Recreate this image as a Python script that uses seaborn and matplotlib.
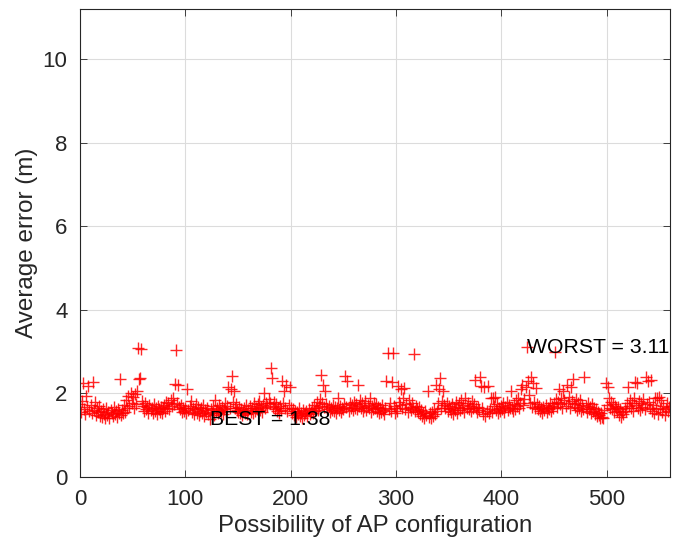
import numpy as np
import pandas as pd
import matplotlib
matplotlib.use("Agg")
import matplotlib.pyplot as plt
import seaborn as sns

# Average positioning error (m) for each of the 560 AP configurations
err_000 = [1.74, 1.55, 1.82, 2.25, 1.62, 1.50, 1.95, 1.68, 2.18, 1.58,
           1.72, 1.52, 2.28, 1.60, 1.80, 1.48, 1.65, 1.55, 1.70, 1.46,
           1.58, 1.44, 1.62, 1.50, 1.42, 1.66, 1.48, 1.56, 1.40, 1.60,
           1.52, 1.45, 1.68, 1.50, 1.58, 1.44, 1.62, 1.54, 2.35, 1.48]
err_040 = [1.60, 1.52, 1.72, 1.56, 1.85, 1.64, 1.95, 1.70, 2.02, 1.78,
           1.92, 1.66, 1.98, 1.74, 2.05, 3.08, 2.34, 2.36, 3.07, 1.82,
           1.70, 1.58, 1.76, 1.62, 1.68, 1.54, 1.72, 1.60, 1.66, 1.52,
           1.74, 1.58, 1.64, 1.50, 1.70, 1.62, 1.56, 1.68, 1.54, 1.64]
err_080 = [1.72, 1.58, 1.80, 1.66, 1.76, 1.62, 1.84, 1.70, 1.88, 1.74,
           2.22, 3.03, 1.78, 2.20, 1.68, 1.62, 1.72, 1.56, 1.66, 1.58,
           1.64, 1.52, 2.10, 1.60, 1.70, 1.83, 1.56, 1.66, 1.50, 1.62,
           1.74, 1.54, 1.68, 1.48, 1.58, 1.64, 1.52, 1.72, 1.46, 1.60]
err_120 = [1.56, 1.66, 1.50, 1.38, 1.62, 1.54, 1.70, 1.48, 1.85, 1.58,
           1.64, 1.52, 1.72, 1.60, 1.56, 1.68, 1.50, 1.62, 1.76, 1.58,
           1.70, 2.15, 1.64, 2.10, 2.42, 1.80, 2.05, 1.66, 1.74, 1.60,
           1.56, 1.68, 1.52, 1.62, 1.48, 1.58, 1.66, 1.54, 1.72, 1.50]
err_160 = [1.60, 1.70, 1.56, 1.64, 1.52, 1.78, 1.58, 1.66, 1.62, 1.74,
           1.82, 1.60, 1.68, 1.56, 1.72, 2.00, 1.64, 1.78, 1.70, 1.86,
           1.76, 2.60, 2.38, 1.68, 1.80, 1.62, 1.74, 1.58, 1.66, 1.54,
           1.70, 1.60, 2.30, 1.76, 2.05, 1.64, 2.20, 1.58, 1.72, 2.15]
err_200 = [1.66, 1.52, 1.62, 1.48, 1.58, 1.44, 1.56, 1.50, 1.64, 1.46,
           1.54, 1.42, 1.60, 1.48, 1.52, 1.58, 1.45, 1.62, 1.50, 1.56,
           1.66, 1.52, 1.72, 1.58, 1.64, 1.80, 1.60, 1.70, 1.86, 2.45,
           1.76, 2.20, 1.68, 2.07, 1.74, 1.62, 1.70, 1.56, 1.66, 1.60]
err_240 = [1.72, 1.58, 1.68, 1.54, 1.64, 1.90, 1.60, 1.70, 1.56, 1.66,
           1.62, 1.74, 2.42, 1.68, 2.30, 1.58, 1.76, 1.64, 1.72, 1.60,
           1.80, 1.66, 1.74, 1.62, 2.20, 1.70, 1.84, 1.64, 1.76, 1.58,
           1.68, 1.82, 1.60, 1.72, 1.64, 1.88, 1.56, 1.70, 1.62, 1.78]
err_280 = [1.66, 1.74, 1.58, 1.68, 1.52, 1.64, 1.56, 1.72, 1.60, 1.50,
           1.66, 2.30, 2.98, 1.62, 1.76, 1.58, 2.28, 2.97, 1.70, 1.54,
           1.64, 1.58, 2.17, 1.80, 1.72, 2.10, 1.66, 1.90, 2.12, 1.62,
           1.74, 1.56, 1.84, 1.68, 1.60, 1.78, 1.64, 2.95, 1.58, 1.70]
err_320 = [1.62, 1.56, 1.68, 1.50, 1.60, 1.46, 1.54, 1.42, 1.58, 1.48,
           2.05, 1.44, 1.52, 1.40, 1.56, 1.46, 1.62, 1.50, 2.20, 1.58,
           1.76, 2.10, 2.37, 1.66, 1.82, 2.05, 1.72, 1.64, 1.78, 1.58,
           1.70, 1.62, 1.56, 1.74, 1.50, 1.66, 1.60, 1.80, 1.54, 1.68]
err_360 = [1.76, 1.60, 1.84, 1.66, 1.72, 1.56, 1.88, 1.64, 1.78, 1.62,
           1.70, 1.58, 1.82, 1.66, 1.74, 2.33, 1.64, 1.56, 1.68, 1.60,
           2.40, 2.17, 1.66, 1.50, 2.15, 1.46, 1.58, 2.18, 1.52, 1.62,
           1.90, 1.56, 1.88, 1.70, 1.92, 1.60, 1.74, 1.54, 1.66, 1.58]
err_400 = [1.70, 1.62, 1.76, 1.56, 1.68, 1.80, 1.60, 1.72, 1.64, 2.05,
           1.66, 1.58, 1.74, 1.62, 1.84, 1.70, 1.90, 1.64, 1.78, 2.10,
           2.20, 1.72, 1.86, 2.15, 3.11, 2.30, 1.96, 1.76, 2.40, 1.68,
           2.25, 1.80, 1.66, 2.12, 1.74, 1.62, 1.70, 1.58, 1.64, 1.54]
err_440 = [1.68, 1.60, 1.72, 1.56, 1.66, 1.62, 1.78, 1.58, 1.70, 1.64,
           1.76, 3.00, 1.86, 1.68, 1.80, 2.10, 1.74, 1.90, 1.66, 2.05,
           1.84, 1.70, 2.20, 1.78, 1.92, 1.64, 2.15, 1.82, 2.35, 1.74,
           1.68, 1.86, 1.60, 1.76, 1.66, 1.84, 1.58, 1.72, 1.62, 2.40]
err_480 = [1.70, 1.56, 1.78, 1.62, 1.68, 1.52, 1.74, 1.58, 1.66, 1.50,
           1.62, 1.46, 1.56, 1.48, 1.42, 1.54, 1.44, 1.40, 1.60, 2.25,
           1.72, 2.15, 1.88, 1.66, 1.80, 1.62, 1.74, 1.56, 1.70, 1.64,
           1.58, 1.68, 1.48, 1.62, 1.44, 1.56, 1.50, 1.66, 1.58, 1.76]
err_520 = [2.15, 1.70, 1.84, 1.64, 1.78, 1.58, 1.90, 2.28, 1.72, 2.26,
           1.66, 1.82, 1.60, 1.76, 1.68, 1.86, 1.62, 2.40, 1.74, 2.30,
           1.80, 1.64, 2.32, 1.58, 1.72, 1.52, 1.90, 1.62, 1.88, 1.50,
           1.92, 1.66, 1.84, 1.56, 1.70, 1.48, 1.62, 1.76, 1.58, 1.68]

x_ticks = [0, 100, 200, 300, 400, 500]
y_ticks = [0, 2, 4, 6, 8, 10]

errors = (err_000 + err_040 + err_080 + err_120 + err_160 + err_200 + err_240
          + err_280 + err_320 + err_360 + err_400 + err_440 + err_480 + err_520)
df = pd.DataFrame({"config": np.arange(len(errors)), "error": errors})

sns.set_style("whitegrid")
plt.rcParams["font.family"] = ["Liberation Sans", "DejaVu Sans"]

fig = plt.figure(figsize=(6.8, 5.42), dpi=100)
ax = fig.add_axes([0.1176, 0.12, 0.8674, 0.863])

sns.scatterplot(data=df, x="config", y="error", marker="+", color="red",
                s=80, linewidth=1.0, alpha=0.85, ax=ax, legend=False)

best_i = int(df["error"].idxmin())
worst_i = int(df["error"].idxmax())
best_v = df["error"][best_i]
worst_v = df["error"][worst_i]
ax.text(best_i, best_v, f"BEST = {best_v:.2f}", ha="left", va="center",
        fontsize=15.3, color="black")
ax.text(worst_i, worst_v, f"WORST = {worst_v:.2f}", ha="left", va="center",
        fontsize=15.3, color="black")

ax.set_xlim(0, 560)
ax.set_ylim(0, 11.2)
ax.set_xticks(x_ticks)
ax.set_yticks(y_ticks)
ax.set_xlabel("Possibility of AP configuration", fontsize=17.3, color="#262626",
              labelpad=3)
ax.set_ylabel("Average error (m)", fontsize=17.5, color="#262626", labelpad=3)
ax.tick_params(axis="both", direction="in", length=5, width=0.6, labelsize=16,
               colors="#262626", top=True, right=True, bottom=True, left=True)
ax.tick_params(axis="y", pad=9)
ax.tick_params(axis="x", pad=9)
ax.grid(True, color="#dcdcdc", linewidth=0.8)
for side in ax.spines.values():
    side.set_color("#262626")
    side.set_linewidth(0.8)
ax.set_axisbelow(True)

fig.savefig("out.png", dpi=100)
